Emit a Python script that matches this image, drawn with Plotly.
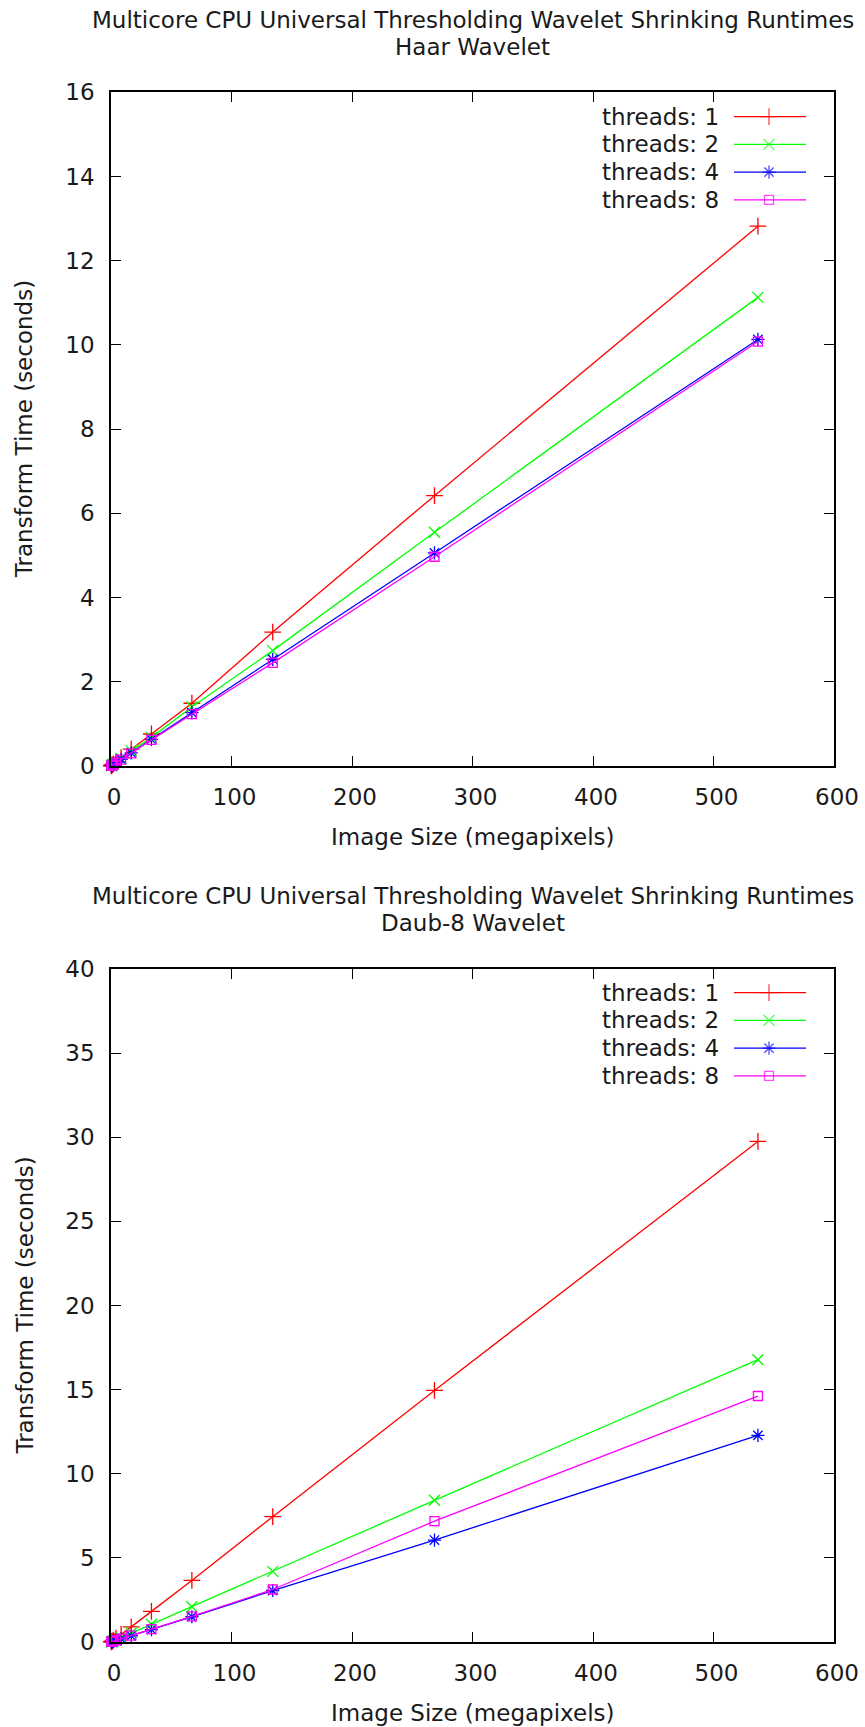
import plotly.graph_objects as go

# ---------------- data ----------------
image_size_mp = [0.26, 0.52, 1.05, 2.10, 4.19, 8.39, 16.78, 33.55, 67.11, 134.22, 268.44, 536.87]

haar_t1 = [0.006, 0.012, 0.025, 0.05, 0.10, 0.20, 0.40, 0.76, 1.49, 3.18, 6.42, 12.82]
haar_t2 = [0.005, 0.011, 0.022, 0.045, 0.09, 0.18, 0.36, 0.68, 1.40, 2.74, 5.55, 11.13]
haar_t4 = [0.005, 0.010, 0.020, 0.04, 0.08, 0.16, 0.31, 0.63, 1.27, 2.53, 5.06, 10.13]
haar_t8 = [0.005, 0.010, 0.020, 0.04, 0.08, 0.15, 0.30, 0.62, 1.23, 2.45, 4.97, 10.08]

daub_t1 = [0.014, 0.028, 0.057, 0.115, 0.23, 0.46, 0.90, 1.82, 3.66, 7.45, 14.95, 29.75]
daub_t2 = [0.008, 0.016, 0.032, 0.065, 0.13, 0.26, 0.53, 1.05, 2.10, 4.20, 8.42, 16.78]
daub_t4 = [0.006, 0.012, 0.024, 0.048, 0.095, 0.19, 0.37, 0.74, 1.50, 3.06, 6.06, 12.28]
daub_t8 = [0.006, 0.012, 0.024, 0.048, 0.095, 0.19, 0.38, 0.76, 1.52, 3.12, 7.18, 14.62]

series_names = ["threads: 1", "threads: 2", "threads: 4", "threads: 8"]
series_colors = ["#ff0000", "#00ff00", "#0000ff", "#ff00ff"]
series_symbols = ["cross-thin", "x-thin", "asterisk-open", "square-open"]
series_sizes = [12, 11, 11, 9]

titles = [
    "Multicore CPU Universal Thresholding Wavelet Shrinking Runtimes<br>Haar Wavelet",
    "Multicore CPU Universal Thresholding Wavelet Shrinking Runtimes<br>Daub-8 Wavelet",
]
x_title = "Image Size (megapixels)"
y_title = "Transform Time (seconds)"

# ---------------- layout geometry ----------------
W, H = 865, 1727
FONT = "DejaVu Sans, Verdana, sans-serif"
FS = 23
TXT = "#1a1a1a"

def px_x(x):
    return x / W

def px_y(y):
    return 1 - y / H

x_dom = [px_x(111), px_x(834)]
panels = [
    dict(top=92.3, bottom=766, ymax=16, dtick=2, data=[haar_t1, haar_t2, haar_t4, haar_t8],
         title=titles[0], title_y=[20, 47], legend_y0=116.7),
    dict(top=969, bottom=1642, ymax=40, dtick=5, data=[daub_t1, daub_t2, daub_t4, daub_t8],
         title=titles[1], title_y=[896, 923], legend_y0=992.7),
]
legend_step = 27.7

fig = go.Figure()
annotations = []
shapes = []

for pi, p in enumerate(panels):
    xa = "x" if pi == 0 else "x2"
    ya = "y" if pi == 0 else "y2"
    for si in range(4):
        fig.add_trace(go.Scatter(
            x=image_size_mp, y=p["data"][si], mode="lines+markers",
            name=series_names[si], showlegend=False,
            xaxis=xa, yaxis=ya, cliponaxis=False,
            line=dict(color=series_colors[si], width=1.3),
            marker=dict(symbol=series_symbols[si], size=series_sizes[si],
                        color=series_colors[si],
                        line=dict(color=series_colors[si], width=1.3)),
        ))
    axis_common = dict(showline=True, linecolor="black", linewidth=1.5, mirror="ticks",
                       ticks="inside", ticklen=10, tickwidth=1.2, tickcolor="black",
                       showgrid=False, zeroline=False, automargin=False,
                       tickfont=dict(family=FONT, size=FS, color=TXT))
    fig.update_layout(**{
        ("xaxis" if pi == 0 else "xaxis2"): dict(
            domain=x_dom, range=[0, 600], dtick=100, tick0=0, anchor=ya,
            ticklabelstandoff=10, ticklabelshift=3, **axis_common),
        ("yaxis" if pi == 0 else "yaxis2"): dict(
            domain=[px_y(p["bottom"]), px_y(p["top"])], range=[0, p["ymax"]],
            dtick=p["dtick"], tick0=0, anchor=xa, ticklabelstandoff=10, **axis_common),
    })
    for li, line in enumerate(p["title"].split("<br>")):
        annotations.append(dict(text=line, x=px_x(472.5), y=px_y(p["title_y"][li]),
                                xref="paper", yref="paper", xanchor="center", yanchor="middle",
                                showarrow=False, font=dict(family=FONT, size=FS, color=TXT)))
    annotations.append(dict(text=x_title, x=px_x(472.5), y=px_y(p["bottom"] + 71),
                            xref="paper", yref="paper", xanchor="center", yanchor="middle",
                            showarrow=False, font=dict(family=FONT, size=FS, color=TXT)))
    annotations.append(dict(text=y_title, x=px_x(24), y=px_y((p["top"] + p["bottom"]) / 2),
                            xref="paper", yref="paper", xanchor="center", yanchor="middle",
                            textangle=-90, showarrow=False,
                            font=dict(family=FONT, size=FS, color=TXT)))
    leg_x, leg_y = [], []
    for si in range(4):
        yy = p["legend_y0"] + si * legend_step
        annotations.append(dict(text=series_names[si], x=px_x(721), y=px_y(yy),
                                xref="paper", yref="paper", xanchor="right", yanchor="middle",
                                showarrow=False, font=dict(family=FONT, size=FS, color=TXT)))
        shapes.append(dict(type="line", xref="paper", yref="paper",
                           x0=px_x(734), x1=px_x(806), y0=px_y(yy), y1=px_y(yy),
                           line=dict(color=series_colors[si], width=1.3)))
        leg_x.append(px_x(769))
        leg_y.append(px_y(yy))
    fig.add_trace(go.Scatter(
        x=leg_x, y=leg_y, mode="markers", showlegend=False, hoverinfo="skip",
        xaxis="x3", yaxis="y3",
        marker=dict(symbol=series_symbols, size=series_sizes, color=series_colors,
                    line=dict(color=series_colors, width=1.3)),
    ))

fig.update_layout(
    xaxis3=dict(domain=[0, 1], range=[0, 1], visible=False, anchor="y3",
                fixedrange=True, automargin=False),
    yaxis3=dict(domain=[0, 1], range=[0, 1], visible=False, anchor="x3",
                fixedrange=True, automargin=False),
    width=W, height=H, margin=dict(l=0, r=0, t=0, b=0, pad=0, autoexpand=False),
    paper_bgcolor="white", plot_bgcolor="rgba(0,0,0,0)",
    showlegend=False, annotations=annotations, shapes=shapes,
)

fig.write_html("out.html")
